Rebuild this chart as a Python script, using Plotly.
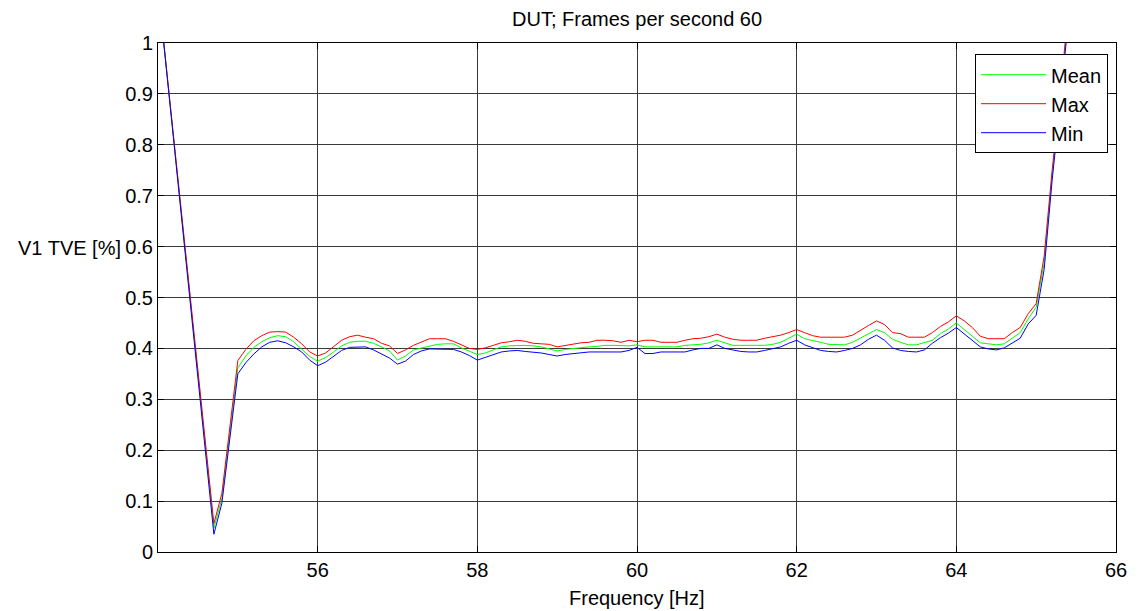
import plotly.graph_objects as go

# ---------------- data ----------------
freq = [54.0, 54.7, 54.8,
        55.0, 55.1, 55.2, 55.3, 55.4, 55.5, 55.6, 55.7, 55.8, 55.9,
        56.0, 56.1, 56.2, 56.3, 56.4, 56.5, 56.6, 56.7, 56.8, 56.9,
        57.0, 57.1, 57.2, 57.3, 57.4, 57.5, 57.6, 57.7, 57.8, 57.9,
        58.0, 58.1, 58.2, 58.3, 58.4, 58.5, 58.6, 58.7, 58.8, 58.9,
        59.0, 59.1, 59.2, 59.3, 59.4, 59.5, 59.6, 59.7, 59.8, 59.9,
        60.0, 60.1, 60.2, 60.3, 60.4, 60.5, 60.6, 60.7, 60.8, 60.9,
        61.0, 61.1, 61.2, 61.3, 61.4, 61.5, 61.6, 61.7, 61.8, 61.9,
        62.0, 62.1, 62.2, 62.3, 62.4, 62.5, 62.6, 62.7, 62.8, 62.9,
        63.0, 63.1, 63.2, 63.3, 63.4, 63.5, 63.6, 63.7, 63.8, 63.9,
        64.0, 64.1, 64.2, 64.3, 64.4, 64.5, 64.6, 64.7, 64.8, 64.9,
        65.0, 65.1, 65.2, 65.3, 65.4]

tve_mean = [1.11, 0.047, 0.105,
            0.362, 0.385, 0.402, 0.413, 0.421, 0.425, 0.423, 0.413, 0.398, 0.384,
            0.375, 0.382, 0.393, 0.405, 0.412, 0.414, 0.414, 0.410, 0.403, 0.395,
            0.377, 0.385, 0.397, 0.401, 0.405, 0.408, 0.409, 0.409, 0.401, 0.394,
            0.388, 0.391, 0.397, 0.403, 0.405, 0.406, 0.406, 0.405, 0.403, 0.399,
            0.395, 0.398, 0.400, 0.402, 0.403, 0.404, 0.406, 0.406, 0.405, 0.405,
            0.407, 0.403, 0.403, 0.403, 0.403, 0.403, 0.406, 0.407, 0.408, 0.411,
            0.416, 0.411, 0.406, 0.406, 0.406, 0.406, 0.406, 0.408, 0.412, 0.420,
            0.428, 0.419, 0.416, 0.412, 0.408, 0.407, 0.407, 0.412, 0.420, 0.429,
            0.437, 0.431, 0.418, 0.412, 0.407, 0.407, 0.411, 0.416, 0.429, 0.438,
            0.450, 0.437, 0.424, 0.411, 0.409, 0.407, 0.409, 0.420, 0.431, 0.458,
            0.481, 0.568, 0.74, 0.89, 1.05]

tve_max = [1.11, 0.056, 0.115,
           0.376, 0.398, 0.415, 0.425, 0.432, 0.433, 0.432, 0.422, 0.409, 0.393,
           0.385, 0.391, 0.404, 0.416, 0.423, 0.426, 0.422, 0.419, 0.410, 0.405,
           0.390, 0.397, 0.406, 0.412, 0.419, 0.419, 0.419, 0.414, 0.407, 0.400,
           0.398, 0.401, 0.406, 0.411, 0.413, 0.416, 0.414, 0.410, 0.409, 0.408,
           0.403, 0.406, 0.409, 0.411, 0.412, 0.416, 0.416, 0.415, 0.412, 0.416,
           0.413, 0.416, 0.416, 0.412, 0.412, 0.412, 0.416, 0.419, 0.420, 0.423,
           0.428, 0.422, 0.418, 0.416, 0.416, 0.416, 0.420, 0.423, 0.426, 0.431,
           0.437, 0.431, 0.425, 0.422, 0.422, 0.422, 0.422, 0.426, 0.436, 0.445,
           0.454, 0.447, 0.431, 0.429, 0.422, 0.422, 0.422, 0.431, 0.443, 0.452,
           0.464, 0.454, 0.441, 0.424, 0.419, 0.419, 0.419, 0.431, 0.441, 0.468,
           0.488, 0.581, 0.75, 0.90, 1.06]

tve_min = [1.11, 0.035, 0.096,
           0.350, 0.372, 0.389, 0.403, 0.412, 0.415, 0.411, 0.403, 0.393, 0.377,
           0.366, 0.373, 0.385, 0.396, 0.402, 0.403, 0.403, 0.397, 0.389, 0.381,
           0.369, 0.375, 0.388, 0.395, 0.399, 0.399, 0.399, 0.398, 0.393, 0.386,
           0.377, 0.382, 0.388, 0.393, 0.395, 0.396, 0.394, 0.393, 0.391, 0.388,
           0.385, 0.388, 0.390, 0.392, 0.393, 0.393, 0.393, 0.393, 0.393, 0.396,
           0.402, 0.390, 0.390, 0.393, 0.393, 0.393, 0.393, 0.397, 0.400, 0.400,
           0.407, 0.400, 0.397, 0.394, 0.393, 0.393, 0.396, 0.400, 0.403, 0.410,
           0.416, 0.407, 0.401, 0.396, 0.394, 0.393, 0.396, 0.400, 0.407, 0.418,
           0.426, 0.416, 0.401, 0.396, 0.394, 0.393, 0.397, 0.410, 0.421, 0.430,
           0.441, 0.428, 0.415, 0.403, 0.399, 0.397, 0.401, 0.410, 0.420, 0.448,
           0.465, 0.555, 0.73, 0.88, 1.04]

x_ticks = [56, 58, 60, 62, 64, 66]
y_ticks = [0, 0.1, 0.2, 0.3, 0.4, 0.5, 0.6, 0.7, 0.8, 0.9, 1]
y_tick_text = ["0", "0.1", "0.2", "0.3", "0.4", "0.5", "0.6", "0.7", "0.8", "0.9", "1"]

series = [("Mean", tve_mean, "#00FF00"),
          ("Max", tve_max, "#FF0000"),
          ("Min", tve_min, "#0000FF")]

# ---------------- figure ----------------
FONT = "Liberation Sans, Arial, sans-serif"
fig = go.Figure()
for name, vals, col in series:
    fig.add_trace(go.Scatter(x=freq, y=vals, mode="lines", name=name,
                             legendgroup=name,
                             line=dict(color=col, width=1)))

axis_common = dict(showline=True, linecolor="black", linewidth=1,
                   mirror="ticks", ticks="inside", ticklen=6,
                   tickcolor="black", showgrid=True, gridcolor="#3a3a3a",
                   gridwidth=1, zeroline=False,
                   tickfont=dict(family=FONT, size=20, color="black"))

fig.update_xaxes(range=[54.0, 66], tickvals=x_ticks,
                 ticktext=[str(v) for v in x_ticks], **axis_common)
fig.update_yaxes(range=[0, 1], tickvals=y_ticks, ticktext=y_tick_text,
                 **axis_common)

fig.update_layout(
    width=1139, height=611,
    margin=dict(l=158, r=15, t=43, b=59),
    paper_bgcolor="white", plot_bgcolor="white",
    font=dict(family=FONT, size=20, color="black"),
    showlegend=True,
    legend=dict(x=0.9917, y=0.978, xanchor="right", yanchor="top",
                bgcolor="white", bordercolor="black", borderwidth=1,
                font=dict(family=FONT, size=20, color="black"),
                tracegroupgap=0, itemwidth=65),
    annotations=[
        dict(text="DUT; Frames per second 60", xref="paper", yref="paper",
             x=0.5, y=1.048, xanchor="center", yanchor="middle",
             showarrow=False, font=dict(family=FONT, size=20)),
        dict(text="Frequency [Hz]", xref="paper", yref="paper",
             x=0.5, y=-0.0904, xanchor="center", yanchor="middle",
             showarrow=False, font=dict(family=FONT, size=20)),
        dict(text="V1 TVE [%]", xref="paper", yref="y",
             x=-(158 - 123) / 966, y=0.598, xanchor="right", yanchor="middle",
             showarrow=False, font=dict(family=FONT, size=20)),
    ],
)

fig.write_html("out.html",
               config={"displayModeBar": False},
               post_script="document.body.style.margin='0px';"
                           "document.body.style.padding='0px';")
